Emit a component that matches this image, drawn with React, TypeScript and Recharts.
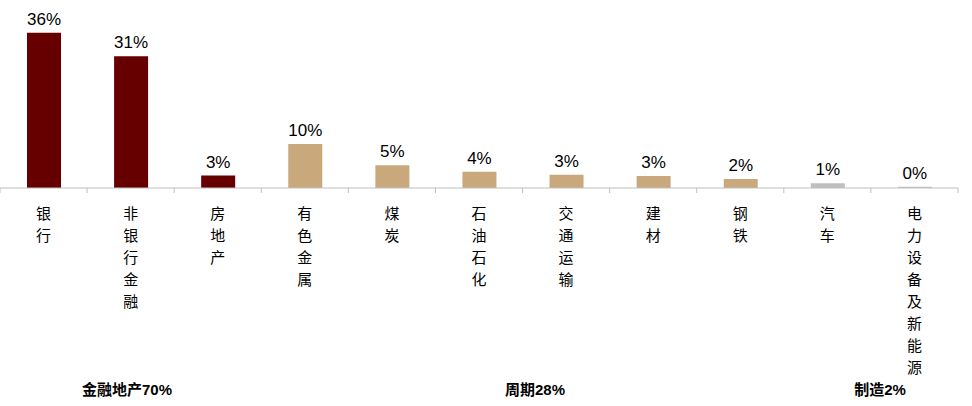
import { BarChart, Bar, XAxis, YAxis, Cell, LabelList } from 'recharts';

const categories = ['银行', '非银行金融', '房地产', '有色金属', '煤炭', '石油石化', '交通运输', '建材', '钢铁', '汽车', '电力设备及新能源'];
const shares = [36.3, 30.8, 2.9, 10.3, 5.3, 3.8, 3.1, 2.8, 2.1, 1.1, 0.3];
const groupOf = [0, 0, 0, 1, 1, 1, 1, 1, 1, 2, 2];
const groupLabels = ['金融地产70%', '周期28%', '制造2%'];
const groupColors = ['#660000', '#C9A97C', '#BFBFBF'];

const data = categories.map((name, i) => ({ name, value: shares[i], group: groupOf[i] }));

const W = 972;
const H = 406;
const margin = { top: 17, right: 14, left: 0, bottom: 0 };
const bandW = (W - margin.left - margin.right) / categories.length;

// vertical labels: one character per line, plus boundary tick marks between categories
const CategoryTick = (props: any) => {
  const { x, y, payload, index } = props;
  const chars = String(payload.value).split('');
  const axisY = y - 8;
  return (
    <g>
      <line x1={x - bandW / 2} x2={x - bandW / 2} y1={axisY} y2={axisY + 5} stroke="#BFBFBF" />
      {index === categories.length - 1 && (
        <line x1={x + bandW / 2} x2={x + bandW / 2} y1={axisY} y2={axisY + 5} stroke="#BFBFBF" />
      )}
      <text
        x={x}
        textAnchor="middle"
        fill="#000"
        style={{ fontFamily: '"Noto Sans CJK SC", sans-serif', fontSize: 15 }}
      >
        {chars.map((c, i) => (
          <tspan key={i} x={x} y={axisY + 31 + i * 22}>
            {c}
          </tspan>
        ))}
      </text>
    </g>
  );
};

const groupCenters = [127, 535, 880];

export default function App() {
  return (
    <div style={{ position: 'relative', width: W, height: H, background: '#fff' }}>
      <style>{`body { margin: 0; }`}</style>
      <BarChart width={W} height={H} data={data} margin={margin}>
        <YAxis hide domain={[0, 40]} />
        <XAxis
          dataKey="name"
          height={218}
          interval={0}
          tickLine={false}
          axisLine={{ stroke: '#BFBFBF' }}
          tick={<CategoryTick />}
        />
        <Bar dataKey="value" barSize={34} isAnimationActive={false}>
          {data.map((d, i) => (
            <Cell key={i} fill={groupColors[d.group]} />
          ))}
          <LabelList
            dataKey="value"
            position="top"
            offset={8}
            formatter={(v: any) => `${Math.round(Number(v))}%`}
            style={{ fontFamily: '"Liberation Sans", Arial, sans-serif', fontSize: 17, fill: '#000' }}
          />
        </Bar>
      </BarChart>
      {groupLabels.map((label, i) => (
        <div
          key={label}
          style={{
            position: 'absolute',
            left: groupCenters[i] - 80,
            width: 160,
            top: 380,
            textAlign: 'center',
            fontFamily: '"Liberation Sans", "Noto Sans CJK SC", sans-serif',
            fontWeight: 'bold',
            fontSize: 15,
            lineHeight: '20px',
            color: '#000',
          }}
        >
          {label}
        </div>
      ))}
    </div>
  );
}
